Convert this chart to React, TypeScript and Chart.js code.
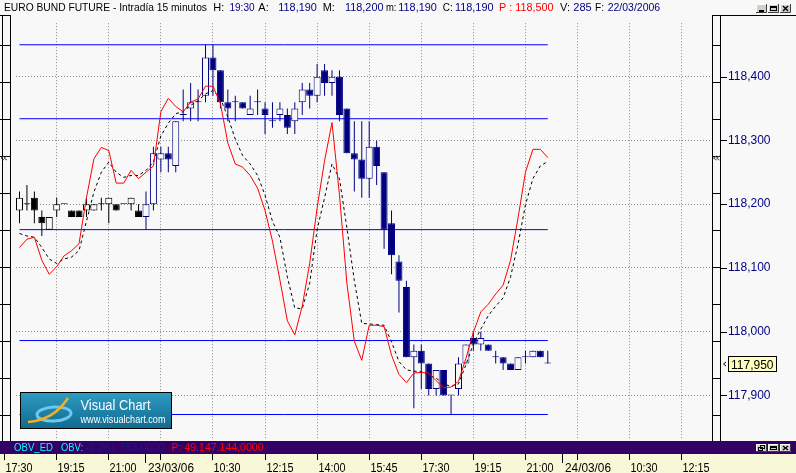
import { useEffect, useRef } from "react";
import { Chart, registerables } from "chart.js";

Chart.register(...registerables);

// ---------------- data ----------------
const BAR_OPEN = [
  118.19, 118.2, 118.21, 118.18, 118.16, 118.19, 118.2, 118.19, 118.19, 118.19,
  118.19, 118.2, 118.2, 118.2, 118.2, 118.2, 118.19, 118.18, 118.2, 118.27,
  118.28, 118.26, 118.34, 118.35, 118.36, 118.37, 118.43, 118.41, 118.36, 118.36,
  118.36, 118.34, 118.36, 118.35, 118.33, 118.34, 118.34, 118.33, 118.36, 118.38,
  118.37, 118.41, 118.39, 118.4, 118.35, 118.28, 118.27, 118.24, 118.29, 118.25,
  118.17, 118.11, 118.07, 117.96, 117.97, 117.95, 117.91, 117.94, 117.9, 117.91,
  117.95, 117.99, 117.98, 117.98, 117.96, 117.96, 117.95, 117.94, 117.96, 117.96,
  117.97, 117.95,
];
const BAR_HIGH = [
  118.22, 118.23, 118.22, 118.19, 118.18, 118.21, 118.2, 118.19, 118.19, 118.21,
  118.2, 118.21, 118.21, 118.2, 118.2, 118.21, 118.2, 118.22, 118.29, 118.29,
  118.29, 118.33, 118.38, 118.39, 118.38, 118.45, 118.45, 118.41, 118.38, 118.37,
  118.36, 118.37, 118.38, 118.36, 118.36, 118.36, 118.35, 118.36, 118.39, 118.39,
  118.42, 118.42, 118.41, 118.41, 118.35, 118.33, 118.33, 118.33, 118.3, 118.25,
  118.19, 118.12, 118.08, 117.98, 117.98, 117.95, 117.94, 117.94, 117.9, 117.96,
  117.98, 118.0, 118.0, 117.98, 117.97, 117.96, 117.95, 117.96, 117.97, 117.97,
  117.97, 117.97,
];
const BAR_LOW = [
  118.17, 118.19, 118.17, 118.15, 118.16, 118.18, 118.2, 118.18, 118.18, 118.18,
  118.19, 118.19, 118.17, 118.19, 118.2, 118.19, 118.18, 118.16, 118.19, 118.25,
  118.25, 118.25, 118.33, 118.33, 118.33, 118.36, 118.37, 118.35, 118.33, 118.33,
  118.35, 118.34, 118.34, 118.31, 118.32, 118.33, 118.31, 118.31, 118.34, 118.35,
  118.36, 118.37, 118.37, 118.33, 118.28, 118.22, 118.21, 118.21, 118.23, 118.13,
  118.09, 118.03, 117.96, 117.88, 117.91, 117.9, 117.9, 117.9, 117.87, 117.9,
  117.95, 117.97, 117.97, 117.97, 117.95, 117.94, 117.94, 117.94, 117.95, 117.96,
  117.96, 117.95,
];
const BAR_CLOSE = [
  118.21, 118.2, 118.19, 118.17, 118.18, 118.2, 118.2, 118.18, 118.18, 118.2,
  118.2, 118.2, 118.21, 118.19, 118.2, 118.21, 118.18, 118.2, 118.28, 118.28,
  118.27, 118.33, 118.34, 118.36, 118.36, 118.43, 118.41, 118.36, 118.35, 118.36,
  118.35, 118.35, 118.36, 118.34, 118.33, 118.35, 118.32, 118.35, 118.38, 118.37,
  118.4, 118.39, 118.4, 118.34, 118.28, 118.27, 118.24, 118.29, 118.26, 118.16,
  118.12, 118.08, 117.96, 117.97, 117.95, 117.91, 117.94, 117.9, 117.9, 117.95,
  117.98, 117.98, 117.99, 117.97, 117.96, 117.95, 117.94, 117.96, 117.96, 117.97,
  117.96, 117.95,
];
// red oscillator line
const FAST_LINE = [
  118.132, 118.145, 118.148, 118.112, 118.09, 118.102, 118.119, 118.127, 118.138, 118.21,
  118.271, 118.289, 118.284, 118.233, 118.233, 118.253, 118.24, 118.25, 118.26, 118.345,
  118.366, 118.353, 118.345, 118.36, 118.365, 118.385, 118.385, 118.358, 118.296, 118.263,
  118.258, 118.245, 118.225, 118.19, 118.142, 118.081, 118.017, 117.995, 118.04, 118.107,
  118.194, 118.268, 118.328, 118.215, 118.076, 117.985, 117.955, 118.01, 118.01, 118.008,
  117.963, 117.933, 117.92, 117.935, 117.936, 117.935, 117.923, 117.912, 117.913, 117.922,
  117.958, 117.999, 118.031, 118.043, 118.059, 118.073, 118.112, 118.178, 118.25, 118.286,
  118.286, 118.273,
];
// black dashed signal line
const SLOW_LINE = [
  118.154, 118.15, 118.148, 118.132, 118.114, 118.107, 118.114, 118.117, 118.127, 118.173,
  118.219, 118.25, 118.266, 118.25, 118.242, 118.245, 118.245, 118.253, 118.266, 118.307,
  118.327, 118.342, 118.345, 118.355, 118.362, 118.373, 118.378, 118.366, 118.337, 118.302,
  118.276, 118.263, 118.245, 118.214, 118.173, 118.148, 118.086, 118.037, 118.036, 118.076,
  118.16, 118.21, 118.263, 118.24, 118.163, 118.08, 118.013, 118.012, 118.011, 118.01,
  117.984, 117.953, 117.94, 117.938, 117.937, 117.932, 117.927, 117.918, 117.914, 117.918,
  117.948, 117.981, 118.004, 118.025, 118.04, 118.053, 118.086, 118.137, 118.199, 118.24,
  118.26, 118.267,
];
const LEVELS = [118.45, 118.334, 118.16, 117.986, 117.87];
const SESSION2_START = 17;
const PRICE_TICKS = [117.9, 118.0, 118.1, 118.2, 118.3, 118.4];
const TIME_TICK_INDEX = [-2, 5, 12, 19, 26, 33, 40, 47, 54, 61, 68, 75, 82, 89];
const TIME_TICK_LABELS = ["17:30", "19:15", "21:00", "", "10:30", "12:15", "14:00", "15:45", "17:30", "19:15", "21:00", "", "10:30", "12:15"];
const DATE_TICK_INDEX = [17, 73];
const DATE_TICK_LABELS = ["23/03/06", "24/03/06"];
const TITLE_TEXT = ["EURO BUND FUTURE - Intradía 15 minutos", "H:", "19:30", "A:", "118,190", "M:", "118,200", "m:", "118,190", "C:", "118,190", "P : 118,500", "V:", "285", "F:", "22/03/2006"];
const TITLE_KIND = ["l", "l", "v", "l", "v", "l", "v", "l", "v", "l", "v", "p", "l", "v", "l", "v"];
const OBV_TEXT = ["OBV_ED", "OBV:", "-2.261.753,0000", "P: 49.147.144,0000"];
const LOGO_TEXT = ["Visual Chart", "www.visualchart.com"];

// ---------------- layout / style ----------------
const W = 796;
const H = 473;
const BG = "#F8F8F8";
const NAVY = "#000080";
const FONT = '"Liberation Sans", Arial, sans-serif';
const X_MIN = -0.4704;
const X_MAX = 93.072;
const Y_MIN = 117.83;
const Y_MAX = 118.48385;
const TITLE_X = [4, 213.3, 229.5, 258.3, 278.3, 322.7, 345, 386, 398.3, 442.7, 455, 499, 560, 573.3, 595, 607.7];
const TITLE_W = [203, 13, 25, 12, 38.5, 14, 38.5, 10.5, 38.5, 10, 38.5, 54.5, 10.5, 18.5, 9, 52.5];
const OBV_X = [14, 61, 85.5, 171.5];
const OBV_W = [39, 22, 79, 92];
const OBV_COLOR = ["#00FFFF", "#00FFFF", "#1A1A8A", "#FF0000"];

const fmt = (v: number) => v.toFixed(3).replace(".", ",");

function drawButton(ctx: CanvasRenderingContext2D, x: number, y: number, w: number, h: number, kind: string) {
  ctx.save();
  ctx.fillStyle = "#D4D0C8";
  ctx.fillRect(x, y, w, h);
  ctx.lineWidth = 1;
  ctx.strokeStyle = "#FFFFFF";
  ctx.beginPath();
  ctx.moveTo(x + 0.5, y + h);
  ctx.lineTo(x + 0.5, y + 0.5);
  ctx.lineTo(x + w, y + 0.5);
  ctx.stroke();
  ctx.strokeStyle = "#404040";
  ctx.beginPath();
  ctx.moveTo(x + w - 0.5, y);
  ctx.lineTo(x + w - 0.5, y + h - 0.5);
  ctx.lineTo(x, y + h - 0.5);
  ctx.stroke();
  ctx.strokeStyle = "#000000";
  ctx.fillStyle = "#000000";
  if (kind === "min") {
    ctx.fillRect(x + 3, y + h - 3, 5, 2);
  } else if (kind === "max") {
    ctx.strokeRect(x + 2.5, y + 2.5, w - 5, h - 5);
    ctx.fillRect(x + 2, y + 2, w - 4, 2);
  } else if (kind === "restore") {
    ctx.strokeRect(x + 4.5, y + 1.5, 4, 3);
    ctx.strokeRect(x + 2.5, y + 3.5, 4, 3);
  } else {
    ctx.beginPath();
    ctx.moveTo(x + 3, y + 2);
    ctx.lineTo(x + w - 3, y + h - 2);
    ctx.moveTo(x + w - 3, y + 2);
    ctx.lineTo(x + 3, y + h - 2);
    ctx.lineWidth = 1.4;
    ctx.stroke();
  }
  ctx.restore();
}

function chevrons(ctx: CanvasRenderingContext2D, x: number, y: number) {
  ctx.beginPath();
  for (let k = 0; k < 2; k++) {
    const cx = x + k * 3;
    ctx.moveTo(cx + 3, y - 2);
    ctx.lineTo(cx, y);
    ctx.lineTo(cx + 3, y + 2);
  }
  ctx.strokeStyle = "#404040";
  ctx.lineWidth = 1;
  ctx.stroke();
}

const decor = {
  id: "decor",
  beforeDraw(chart: any) {
    const ctx: CanvasRenderingContext2D = chart.ctx;
    ctx.save();
    ctx.fillStyle = BG;
    ctx.fillRect(0, 0, W, H);
    ctx.fillStyle = "#330066";
    ctx.fillRect(0, 441, W, 13);
    ctx.fillStyle = "#F8F8D8";
    ctx.fillRect(0, 454, W, H - 454);
    ctx.restore();
  },
  afterDraw(chart: any) {
    const ctx: CanvasRenderingContext2D = chart.ctx;
    const xs = chart.scales.x;
    const ys = chart.scales.y;
    ctx.save();
    ctx.lineWidth = 1;
    ctx.strokeStyle = "#000000";

    // rulers (left and right)
    const hi = LEVELS[0];
    const lo = LEVELS[LEVELS.length - 1];
    ctx.beginPath();
    for (const rx of [2.5, 10.5, 712.5, 720.5]) {
      ctx.moveTo(rx, 15);
      ctx.lineTo(rx, 441);
    }
    ctx.moveTo(0, 15.5);
    ctx.lineTo(11, 15.5);
    ctx.moveTo(712, 15.5);
    ctx.lineTo(W, 15.5);
    for (let k = 0; k <= 10; k++) {
      const y = Math.round(ys.getPixelForValue(hi - (k * (hi - lo)) / 10)) + 0.5;
      ctx.moveTo(0, y);
      ctx.lineTo(11, y);
      ctx.moveTo(712, y);
      ctx.lineTo(721, y);
    }
    for (const v of PRICE_TICKS) {
      const y = Math.round(ys.getPixelForValue(v)) + 0.5;
      ctx.moveTo(721, y);
      ctx.lineTo(727, y);
    }
    ctx.stroke();
    const yFast = Math.round(ys.getPixelForValue(FAST_LINE[FAST_LINE.length - 1]));
    chevrons(ctx, 1, yFast);
    chevrons(ctx, 713.5, yFast);

    // last price box
    const last = BAR_CLOSE[BAR_CLOSE.length - 1];
    const py = Math.round(ys.getPixelForValue(last));
    ctx.fillStyle = "#FFFFC0";
    ctx.fillRect(728, py - 8, 49, 16);
    ctx.strokeStyle = "#000000";
    ctx.strokeRect(728.5, py - 7.5, 48, 15);
    ctx.fillStyle = "#000000";
    ctx.font = `12px ${FONT}`;
    ctx.textBaseline = "alphabetic";
    ctx.textAlign = "left";
    ctx.fillText(fmt(last), 731, py + 4.5, 44);
    ctx.beginPath();
    ctx.moveTo(726, py - 2);
    ctx.lineTo(723.5, py);
    ctx.lineTo(726, py + 2);
    ctx.stroke();

    // bottom time axis
    ctx.beginPath();
    TIME_TICK_INDEX.forEach((i) => {
      const x = Math.floor(xs.getPixelForValue(i)) + 0.5;
      ctx.moveTo(x, 454);
      ctx.lineTo(x, 460);
    });
    DATE_TICK_INDEX.forEach((i) => {
      const x = Math.floor(xs.getPixelForValue(i)) + 0.5;
      ctx.moveTo(x, 454);
      ctx.lineTo(x, 463);
    });
    ctx.stroke();
    ctx.font = `12px ${FONT}`;
    ctx.fillStyle = "#000000";
    TIME_TICK_INDEX.forEach((i, k) => {
      const lab = TIME_TICK_LABELS[k];
      if (!lab) return;
      ctx.fillText(lab, Math.floor(xs.getPixelForValue(i)) + 1.5, 471.5, 27);
    });
    DATE_TICK_INDEX.forEach((i, k) => {
      ctx.fillText(DATE_TICK_LABELS[k], Math.floor(xs.getPixelForValue(i)) + 3, 471.5, 46);
    });

    // OBV strip
    ctx.font = `11px ${FONT}`;
    OBV_TEXT.forEach((t, k) => {
      ctx.fillStyle = OBV_COLOR[k];
      ctx.fillText(t, OBV_X[k], 451, OBV_W[k]);
    });
    drawButton(ctx, 756, 444, 11, 8, "restore");
    drawButton(ctx, 768, 444, 11, 8, "max");
    drawButton(ctx, 780, 444, 11, 8, "close");

    // title bar
    ctx.font = `11px ${FONT}`;
    TITLE_TEXT.forEach((t, k) => {
      const kind = TITLE_KIND[k];
      ctx.fillStyle = kind === "v" ? NAVY : kind === "p" ? "#FF0000" : "#000000";
      ctx.fillText(t, TITLE_X[k], 11, TITLE_W[k]);
    });
    drawButton(ctx, 756, 4, 11, 9, "min");
    drawButton(ctx, 768, 4, 11, 9, "max");
    drawButton(ctx, 780, 4, 11, 9, "close");

    // Visual Chart logo
    const lx = 20, ly = 392, lw = 152, lh = 37;
    const g = ctx.createLinearGradient(0, ly, 0, ly + lh);
    g.addColorStop(0, "#2E9CC4");
    g.addColorStop(1, "#11698E");
    ctx.fillStyle = g;
    ctx.fillRect(lx, ly, lw, lh);
    ctx.strokeStyle = "#000000";
    ctx.strokeRect(lx + 0.5, ly + 0.5, lw - 1, lh - 1);
    ctx.beginPath();
    ctx.ellipse(54, 414, 17, 7, -0.05, 0, Math.PI * 2);
    ctx.strokeStyle = "#6CC8F0";
    ctx.lineWidth = 3;
    ctx.stroke();
    ctx.beginPath();
    ctx.moveTo(28, 422);
    ctx.quadraticCurveTo(54, 420, 68, 398);
    ctx.strokeStyle = "#F2B01E";
    ctx.lineWidth = 2.5;
    ctx.stroke();
    ctx.fillStyle = "#FFFFFF";
    ctx.font = `14px ${FONT}`;
    ctx.fillText(LOGO_TEXT[0], 80.5, 409.5, 70);
    ctx.font = `10px ${FONT}`;
    ctx.fillText(LOGO_TEXT[1], 80.5, 423, 85);
    ctx.restore();
  },
};

export default function App() {
  const ref = useRef<HTMLCanvasElement>(null);
  useEffect(() => {
    const canvas = ref.current as HTMLCanvasElement;
    const n = BAR_OPEN.length;
    const colorOf = (i: number) => (i < SESSION2_START ? "#000000" : NAVY);
    const colors = BAR_OPEN.map((_, i) => colorOf(i));
    const fills = BAR_OPEN.map((o, i) => (BAR_CLOSE[i] > o ? BG : colorOf(i)));

    const levelSets = LEVELS.map((v) => ({
      type: "line" as const,
      data: [
        { x: 0, y: v },
        { x: n - 1, y: v },
      ],
      borderColor: "#0000FF",
      borderWidth: 1,
      pointRadius: 0,
      order: 4,
    }));

    const chart = new Chart(canvas, {
      type: "bar",
      data: {
        datasets: [
          ...levelSets,
          {
            type: "bar",
            data: BAR_OPEN.map((_, i) => ({ x: i, y: [BAR_LOW[i], BAR_HIGH[i]] })),
            backgroundColor: colors,
            borderWidth: 0,
            barThickness: 1,
            grouped: false,
            inflateAmount: 0,
            order: 3,
          },
          {
            type: "bar",
            data: BAR_OPEN.map((o, i) => ({ x: i, y: [Math.min(o, BAR_CLOSE[i]), Math.max(o, BAR_CLOSE[i])] })),
            backgroundColor: fills,
            borderColor: colors,
            borderWidth: 1,
            borderSkipped: false,
            barThickness: 7,
            minBarLength: 1,
            grouped: false,
            inflateAmount: 0,
            order: 2,
          },
          {
            type: "line",
            data: SLOW_LINE.map((v, i) => ({ x: i, y: v })),
            borderColor: "#000000",
            borderWidth: 1,
            borderDash: [3, 3],
            pointRadius: 0,
            tension: 0,
            order: 1,
          },
          {
            type: "line",
            data: FAST_LINE.map((v, i) => ({ x: i, y: v })),
            borderColor: "#FF0000",
            borderWidth: 1,
            pointRadius: 0,
            tension: 0,
            order: 0,
          },
        ] as any,
      },
      options: {
        animation: false,
        responsive: false,
        devicePixelRatio: 1,
        events: [],
        layout: { padding: { top: 15, left: 16, right: 0, bottom: 0 } },
        plugins: { legend: { display: false }, tooltip: { enabled: false }, title: { display: false } },
        scales: {
          x: {
            type: "linear",
            min: X_MIN,
            max: X_MAX,
            offset: false,
            position: "bottom",
            afterBuildTicks: (s: any) => {
              s.ticks = TIME_TICK_INDEX.filter((v) => v >= 0).map((v) => ({ value: v }));
            },
            afterFit: (s: any) => {
              s.height = 33;
            },
            ticks: { display: false },
            grid: { color: "#8A8A8A", drawTicks: false, offset: false, lineWidth: 1 },
            border: { display: false, dash: [1, 2] },
          },
          y: {
            type: "linear",
            position: "right",
            min: Y_MIN,
            max: Y_MAX,
            beginAtZero: false,
            afterBuildTicks: (s: any) => {
              s.ticks = PRICE_TICKS.map((v) => ({ value: v }));
            },
            afterFit: (s: any) => {
              s.width = 84;
            },
            ticks: {
              color: NAVY,
              font: { family: FONT, size: 12 },
              padding: 16,
              autoSkip: false,
              callback: (v: any) => fmt(Number(v)),
            },
            grid: { color: "#8A8A8A", drawTicks: false, lineWidth: 1 },
            border: { display: false, dash: [1, 2] },
          },
        } as any,
      },
      plugins: [decor as any],
    });
    return () => chart.destroy();
  }, []);

  return (
    <div style={{ position: "fixed", left: 0, top: 0, width: W, height: H, background: BG }}>
      <canvas ref={ref} width={W} height={H} style={{ display: "block", width: W, height: H }} />
    </div>
  );
}
